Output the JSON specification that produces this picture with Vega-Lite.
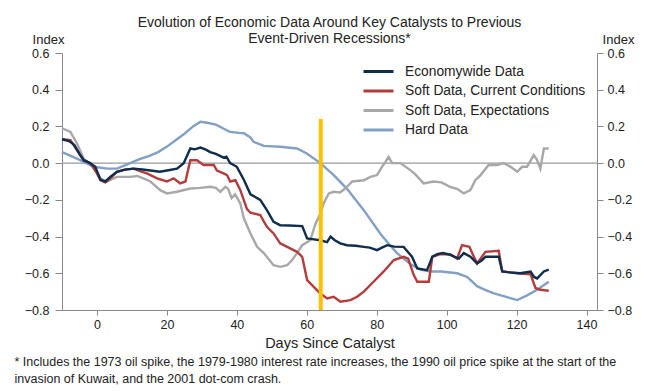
{
  "$schema": "https://vega.github.io/schema/vega-lite/v6.json",
  "width": 535,
  "height": 257,
  "autosize": "none",
  "padding": {"left": 62, "top": 53, "right": 65, "bottom": 81},
  "background": "white",
  "config": {
    "view": {"stroke": null},
    "font": "Liberation Sans",
    "axis": {"grid": false, "domainColor": "#8a8a8a", "tickColor": "#8a8a8a", "labelColor": "#222", "titleColor": "#222", "labelFont": "Liberation Sans", "titleFont": "Liberation Sans", "titleFontWeight": "normal"}
  },
  "title": {
    "text": ["Evolution of Economic Data Around Key Catalysts to Previous", "Event-Driven Recessions*"],
    "fontSize": 14,
    "fontWeight": "normal",
    "color": "#222",
    "anchor": "middle",
    "offset": -13,
    "lineHeight": 16
  },
  "layer": [
    {
      "data": {"values": [{"v": 0}]},
      "mark": {"type": "rule", "color": "#9a9a9a", "strokeWidth": 1.2},
      "encoding": {
        "y": {
          "field": "v", "type": "quantitative",
          "scale": {"domain": [-0.8, 0.6], "nice": false},
          "axis": {"orient": "left", "values": [-0.8, -0.6, -0.4, -0.2, 0, 0.2, 0.4, 0.6], "format": ".1f", "tickSize": 7, "labelPadding": 6, "labelFontSize": 12.5, "title": "Index", "titleAngle": 0, "titleAlign": "center", "titleBaseline": "alphabetic", "titleX": -14, "titleY": -10, "titleFontSize": 13}
        }
      }
    },
    {
      "data": {"values": [
        {"day": -10, "series": "Hard Data", "value": 0.06},
        {"day": -7, "series": "Hard Data", "value": 0.035},
        {"day": -4.8, "series": "Hard Data", "value": 0.016},
        {"day": -1, "series": "Hard Data", "value": -0.02},
        {"day": 3, "series": "Hard Data", "value": -0.03},
        {"day": 5.7, "series": "Hard Data", "value": -0.03},
        {"day": 9.5, "series": "Hard Data", "value": 0.0},
        {"day": 12, "series": "Hard Data", "value": 0.02},
        {"day": 15, "series": "Hard Data", "value": 0.04},
        {"day": 17.5, "series": "Hard Data", "value": 0.06},
        {"day": 20, "series": "Hard Data", "value": 0.09},
        {"day": 22.5, "series": "Hard Data", "value": 0.125},
        {"day": 25, "series": "Hard Data", "value": 0.16},
        {"day": 27.5, "series": "Hard Data", "value": 0.2},
        {"day": 29.6, "series": "Hard Data", "value": 0.225},
        {"day": 31.5, "series": "Hard Data", "value": 0.22},
        {"day": 34, "series": "Hard Data", "value": 0.21},
        {"day": 36, "series": "Hard Data", "value": 0.19},
        {"day": 38, "series": "Hard Data", "value": 0.17},
        {"day": 40.6, "series": "Hard Data", "value": 0.165},
        {"day": 42, "series": "Hard Data", "value": 0.163},
        {"day": 43.9, "series": "Hard Data", "value": 0.14},
        {"day": 44.8, "series": "Hard Data", "value": 0.116},
        {"day": 47.7, "series": "Hard Data", "value": 0.094},
        {"day": 52.4, "series": "Hard Data", "value": 0.089},
        {"day": 57.2, "series": "Hard Data", "value": 0.08},
        {"day": 60, "series": "Hard Data", "value": 0.053},
        {"day": 63.9, "series": "Hard Data", "value": 0.0},
        {"day": 67.7, "series": "Hard Data", "value": -0.065},
        {"day": 71.5, "series": "Hard Data", "value": -0.14},
        {"day": 76.3, "series": "Hard Data", "value": -0.256},
        {"day": 81, "series": "Hard Data", "value": -0.383},
        {"day": 83, "series": "Hard Data", "value": -0.43},
        {"day": 85.8, "series": "Hard Data", "value": -0.49},
        {"day": 89.6, "series": "Hard Data", "value": -0.55},
        {"day": 92.5, "series": "Hard Data", "value": -0.58},
        {"day": 95.4, "series": "Hard Data", "value": -0.59},
        {"day": 98.5, "series": "Hard Data", "value": -0.59},
        {"day": 103, "series": "Hard Data", "value": -0.6},
        {"day": 105.9, "series": "Hard Data", "value": -0.62},
        {"day": 108.7, "series": "Hard Data", "value": -0.67},
        {"day": 111, "series": "Hard Data", "value": -0.69},
        {"day": 113.5, "series": "Hard Data", "value": -0.71},
        {"day": 117.3, "series": "Hard Data", "value": -0.73},
        {"day": 120.2, "series": "Hard Data", "value": -0.746},
        {"day": 123, "series": "Hard Data", "value": -0.72},
        {"day": 125.9, "series": "Hard Data", "value": -0.69},
        {"day": 129.2, "series": "Hard Data", "value": -0.646},

        {"day": -10, "series": "Soft Data, Expectations", "value": 0.19},
        {"day": -7.6, "series": "Soft Data, Expectations", "value": 0.17},
        {"day": -5.7, "series": "Soft Data, Expectations", "value": 0.107},
        {"day": -3.8, "series": "Soft Data, Expectations", "value": 0.025},
        {"day": -1, "series": "Soft Data, Expectations", "value": -0.02},
        {"day": 1, "series": "Soft Data, Expectations", "value": -0.084},
        {"day": 2.9, "series": "Soft Data, Expectations", "value": -0.1},
        {"day": 5.7, "series": "Soft Data, Expectations", "value": -0.075},
        {"day": 9.5, "series": "Soft Data, Expectations", "value": -0.075},
        {"day": 11.5, "series": "Soft Data, Expectations", "value": -0.07},
        {"day": 13.3, "series": "Soft Data, Expectations", "value": -0.083},
        {"day": 15.3, "series": "Soft Data, Expectations", "value": -0.1},
        {"day": 18.1, "series": "Soft Data, Expectations", "value": -0.147},
        {"day": 20, "series": "Soft Data, Expectations", "value": -0.165},
        {"day": 22.9, "series": "Soft Data, Expectations", "value": -0.156},
        {"day": 26.7, "series": "Soft Data, Expectations", "value": -0.138},
        {"day": 29.5, "series": "Soft Data, Expectations", "value": -0.135},
        {"day": 32.4, "series": "Soft Data, Expectations", "value": -0.129},
        {"day": 34, "series": "Soft Data, Expectations", "value": -0.135},
        {"day": 35.3, "series": "Soft Data, Expectations", "value": -0.156},
        {"day": 36.7, "series": "Soft Data, Expectations", "value": -0.129},
        {"day": 37.5, "series": "Soft Data, Expectations", "value": -0.14},
        {"day": 38.5, "series": "Soft Data, Expectations", "value": -0.19},
        {"day": 39.5, "series": "Soft Data, Expectations", "value": -0.17},
        {"day": 41, "series": "Soft Data, Expectations", "value": -0.22},
        {"day": 42, "series": "Soft Data, Expectations", "value": -0.3},
        {"day": 43.9, "series": "Soft Data, Expectations", "value": -0.383},
        {"day": 45.8, "series": "Soft Data, Expectations", "value": -0.456},
        {"day": 47.7, "series": "Soft Data, Expectations", "value": -0.49},
        {"day": 50.5, "series": "Soft Data, Expectations", "value": -0.556},
        {"day": 52.4, "series": "Soft Data, Expectations", "value": -0.565},
        {"day": 54.4, "series": "Soft Data, Expectations", "value": -0.556},
        {"day": 55.8, "series": "Soft Data, Expectations", "value": -0.528},
        {"day": 57.2, "series": "Soft Data, Expectations", "value": -0.49},
        {"day": 58.7, "series": "Soft Data, Expectations", "value": -0.447},
        {"day": 61, "series": "Soft Data, Expectations", "value": -0.42},
        {"day": 62.5, "series": "Soft Data, Expectations", "value": -0.33},
        {"day": 63.9, "series": "Soft Data, Expectations", "value": -0.274},
        {"day": 64.8, "series": "Soft Data, Expectations", "value": -0.22},
        {"day": 66.3, "series": "Soft Data, Expectations", "value": -0.165},
        {"day": 67.7, "series": "Soft Data, Expectations", "value": -0.156},
        {"day": 69.5, "series": "Soft Data, Expectations", "value": -0.16},
        {"day": 71, "series": "Soft Data, Expectations", "value": -0.138},
        {"day": 73, "series": "Soft Data, Expectations", "value": -0.1},
        {"day": 76.3, "series": "Soft Data, Expectations", "value": -0.093},
        {"day": 78.2, "series": "Soft Data, Expectations", "value": -0.075},
        {"day": 80.1, "series": "Soft Data, Expectations", "value": -0.065},
        {"day": 81.5, "series": "Soft Data, Expectations", "value": -0.02},
        {"day": 82.5, "series": "Soft Data, Expectations", "value": 0.007},
        {"day": 83.4, "series": "Soft Data, Expectations", "value": 0.034},
        {"day": 84.4, "series": "Soft Data, Expectations", "value": 0.0},
        {"day": 86.8, "series": "Soft Data, Expectations", "value": 0.0},
        {"day": 89.6, "series": "Soft Data, Expectations", "value": -0.038},
        {"day": 91, "series": "Soft Data, Expectations", "value": -0.06},
        {"day": 93.4, "series": "Soft Data, Expectations", "value": -0.11},
        {"day": 96.3, "series": "Soft Data, Expectations", "value": -0.1},
        {"day": 98.5, "series": "Soft Data, Expectations", "value": -0.105},
        {"day": 101, "series": "Soft Data, Expectations", "value": -0.129},
        {"day": 103, "series": "Soft Data, Expectations", "value": -0.14},
        {"day": 104.9, "series": "Soft Data, Expectations", "value": -0.165},
        {"day": 106.8, "series": "Soft Data, Expectations", "value": -0.147},
        {"day": 108.2, "series": "Soft Data, Expectations", "value": -0.093},
        {"day": 109.7, "series": "Soft Data, Expectations", "value": -0.065},
        {"day": 112, "series": "Soft Data, Expectations", "value": -0.01},
        {"day": 114.4, "series": "Soft Data, Expectations", "value": -0.01},
        {"day": 116.3, "series": "Soft Data, Expectations", "value": 0.0},
        {"day": 118.3, "series": "Soft Data, Expectations", "value": -0.02},
        {"day": 120.2, "series": "Soft Data, Expectations", "value": -0.047},
        {"day": 121.6, "series": "Soft Data, Expectations", "value": -0.02},
        {"day": 123, "series": "Soft Data, Expectations", "value": -0.02},
        {"day": 124.9, "series": "Soft Data, Expectations", "value": 0.044},
        {"day": 125.8, "series": "Soft Data, Expectations", "value": 0.02},
        {"day": 126.8, "series": "Soft Data, Expectations", "value": -0.03},
        {"day": 127.8, "series": "Soft Data, Expectations", "value": 0.08},
        {"day": 129.2, "series": "Soft Data, Expectations", "value": 0.08},

        {"day": -10, "series": "Soft Data, Current Conditions", "value": 0.13},
        {"day": -7.6, "series": "Soft Data, Current Conditions", "value": 0.125},
        {"day": -5.7, "series": "Soft Data, Current Conditions", "value": 0.07},
        {"day": -3.8, "series": "Soft Data, Current Conditions", "value": 0.016},
        {"day": -1.9, "series": "Soft Data, Current Conditions", "value": 0.0},
        {"day": 0, "series": "Soft Data, Current Conditions", "value": -0.056},
        {"day": 1, "series": "Soft Data, Current Conditions", "value": -0.093},
        {"day": 2.4, "series": "Soft Data, Current Conditions", "value": -0.105},
        {"day": 4.3, "series": "Soft Data, Current Conditions", "value": -0.075},
        {"day": 5.7, "series": "Soft Data, Current Conditions", "value": -0.047},
        {"day": 8, "series": "Soft Data, Current Conditions", "value": -0.035},
        {"day": 10.5, "series": "Soft Data, Current Conditions", "value": -0.03},
        {"day": 12.5, "series": "Soft Data, Current Conditions", "value": -0.045},
        {"day": 14.3, "series": "Soft Data, Current Conditions", "value": -0.056},
        {"day": 17.2, "series": "Soft Data, Current Conditions", "value": -0.083},
        {"day": 20, "series": "Soft Data, Current Conditions", "value": -0.1},
        {"day": 21.9, "series": "Soft Data, Current Conditions", "value": -0.083},
        {"day": 23.8, "series": "Soft Data, Current Conditions", "value": -0.11},
        {"day": 25.3, "series": "Soft Data, Current Conditions", "value": -0.1},
        {"day": 26.7, "series": "Soft Data, Current Conditions", "value": 0.016},
        {"day": 28.6, "series": "Soft Data, Current Conditions", "value": 0.016},
        {"day": 30.5, "series": "Soft Data, Current Conditions", "value": -0.01},
        {"day": 33.4, "series": "Soft Data, Current Conditions", "value": -0.01},
        {"day": 34.3, "series": "Soft Data, Current Conditions", "value": -0.04},
        {"day": 36.2, "series": "Soft Data, Current Conditions", "value": -0.056},
        {"day": 37.2, "series": "Soft Data, Current Conditions", "value": -0.065},
        {"day": 38.1, "series": "Soft Data, Current Conditions", "value": -0.1},
        {"day": 39.6, "series": "Soft Data, Current Conditions", "value": -0.093},
        {"day": 41, "series": "Soft Data, Current Conditions", "value": -0.147},
        {"day": 42.9, "series": "Soft Data, Current Conditions", "value": -0.25},
        {"day": 43.9, "series": "Soft Data, Current Conditions", "value": -0.27},
        {"day": 46.7, "series": "Soft Data, Current Conditions", "value": -0.283},
        {"day": 48.6, "series": "Soft Data, Current Conditions", "value": -0.347},
        {"day": 50.5, "series": "Soft Data, Current Conditions", "value": -0.383},
        {"day": 52.4, "series": "Soft Data, Current Conditions", "value": -0.437},
        {"day": 54.4, "series": "Soft Data, Current Conditions", "value": -0.456},
        {"day": 57.2, "series": "Soft Data, Current Conditions", "value": -0.483},
        {"day": 58.7, "series": "Soft Data, Current Conditions", "value": -0.51},
        {"day": 60.1, "series": "Soft Data, Current Conditions", "value": -0.637},
        {"day": 62, "series": "Soft Data, Current Conditions", "value": -0.674},
        {"day": 63.9, "series": "Soft Data, Current Conditions", "value": -0.71},
        {"day": 65.8, "series": "Soft Data, Current Conditions", "value": -0.737},
        {"day": 67.7, "series": "Soft Data, Current Conditions", "value": -0.728},
        {"day": 69.6, "series": "Soft Data, Current Conditions", "value": -0.755},
        {"day": 72.5, "series": "Soft Data, Current Conditions", "value": -0.746},
        {"day": 74.4, "series": "Soft Data, Current Conditions", "value": -0.728},
        {"day": 76.3, "series": "Soft Data, Current Conditions", "value": -0.7},
        {"day": 79.1, "series": "Soft Data, Current Conditions", "value": -0.646},
        {"day": 82, "series": "Soft Data, Current Conditions", "value": -0.59},
        {"day": 84.9, "series": "Soft Data, Current Conditions", "value": -0.528},
        {"day": 87.7, "series": "Soft Data, Current Conditions", "value": -0.51},
        {"day": 89, "series": "Soft Data, Current Conditions", "value": -0.52},
        {"day": 90.6, "series": "Soft Data, Current Conditions", "value": -0.61},
        {"day": 91.6, "series": "Soft Data, Current Conditions", "value": -0.646},
        {"day": 94.9, "series": "Soft Data, Current Conditions", "value": -0.646},
        {"day": 95.9, "series": "Soft Data, Current Conditions", "value": -0.51},
        {"day": 98.2, "series": "Soft Data, Current Conditions", "value": -0.495},
        {"day": 101, "series": "Soft Data, Current Conditions", "value": -0.496},
        {"day": 103, "series": "Soft Data, Current Conditions", "value": -0.52},
        {"day": 104.4, "series": "Soft Data, Current Conditions", "value": -0.447},
        {"day": 106.5, "series": "Soft Data, Current Conditions", "value": -0.456},
        {"day": 107.3, "series": "Soft Data, Current Conditions", "value": -0.49},
        {"day": 108.7, "series": "Soft Data, Current Conditions", "value": -0.546},
        {"day": 111.1, "series": "Soft Data, Current Conditions", "value": -0.483},
        {"day": 114.9, "series": "Soft Data, Current Conditions", "value": -0.478},
        {"day": 115.9, "series": "Soft Data, Current Conditions", "value": -0.59},
        {"day": 120.2, "series": "Soft Data, Current Conditions", "value": -0.6},
        {"day": 124, "series": "Soft Data, Current Conditions", "value": -0.605},
        {"day": 125.4, "series": "Soft Data, Current Conditions", "value": -0.68},
        {"day": 126.8, "series": "Soft Data, Current Conditions", "value": -0.69},
        {"day": 129.2, "series": "Soft Data, Current Conditions", "value": -0.695},

        {"day": -10, "series": "Economywide Data", "value": 0.13},
        {"day": -8, "series": "Economywide Data", "value": 0.12},
        {"day": -6.5, "series": "Economywide Data", "value": 0.1},
        {"day": -5, "series": "Economywide Data", "value": 0.05},
        {"day": -3.8, "series": "Economywide Data", "value": 0.016},
        {"day": -2, "series": "Economywide Data", "value": 0.0},
        {"day": -0.5, "series": "Economywide Data", "value": -0.02},
        {"day": 1, "series": "Economywide Data", "value": -0.09},
        {"day": 2.4, "series": "Economywide Data", "value": -0.1},
        {"day": 3.8, "series": "Economywide Data", "value": -0.075},
        {"day": 5.7, "series": "Economywide Data", "value": -0.047},
        {"day": 8, "series": "Economywide Data", "value": -0.035},
        {"day": 10.5, "series": "Economywide Data", "value": -0.03},
        {"day": 13, "series": "Economywide Data", "value": -0.035},
        {"day": 15.3, "series": "Economywide Data", "value": -0.04},
        {"day": 18, "series": "Economywide Data", "value": -0.047},
        {"day": 20, "series": "Economywide Data", "value": -0.04},
        {"day": 22.9, "series": "Economywide Data", "value": -0.03},
        {"day": 24.8, "series": "Economywide Data", "value": 0.0},
        {"day": 26.7, "series": "Economywide Data", "value": 0.08},
        {"day": 28, "series": "Economywide Data", "value": 0.075},
        {"day": 29.6, "series": "Economywide Data", "value": 0.085},
        {"day": 31, "series": "Economywide Data", "value": 0.075},
        {"day": 32.4, "series": "Economywide Data", "value": 0.06},
        {"day": 34, "series": "Economywide Data", "value": 0.05},
        {"day": 36.2, "series": "Economywide Data", "value": 0.03},
        {"day": 37, "series": "Economywide Data", "value": 0.035},
        {"day": 38.1, "series": "Economywide Data", "value": 0.0},
        {"day": 40, "series": "Economywide Data", "value": -0.02},
        {"day": 42, "series": "Economywide Data", "value": -0.09},
        {"day": 43.9, "series": "Economywide Data", "value": -0.17},
        {"day": 46.7, "series": "Economywide Data", "value": -0.2},
        {"day": 48.6, "series": "Economywide Data", "value": -0.256},
        {"day": 50.5, "series": "Economywide Data", "value": -0.32},
        {"day": 52.4, "series": "Economywide Data", "value": -0.338},
        {"day": 55, "series": "Economywide Data", "value": -0.34},
        {"day": 58.7, "series": "Economywide Data", "value": -0.343},
        {"day": 60.1, "series": "Economywide Data", "value": -0.41},
        {"day": 62, "series": "Economywide Data", "value": -0.415},
        {"day": 63.9, "series": "Economywide Data", "value": -0.42},
        {"day": 65.8, "series": "Economywide Data", "value": -0.43},
        {"day": 66.8, "series": "Economywide Data", "value": -0.4},
        {"day": 68, "series": "Economywide Data", "value": -0.42},
        {"day": 69.6, "series": "Economywide Data", "value": -0.437},
        {"day": 71.5, "series": "Economywide Data", "value": -0.447},
        {"day": 74, "series": "Economywide Data", "value": -0.45},
        {"day": 76.3, "series": "Economywide Data", "value": -0.456},
        {"day": 78, "series": "Economywide Data", "value": -0.46},
        {"day": 80.1, "series": "Economywide Data", "value": -0.474},
        {"day": 81.5, "series": "Economywide Data", "value": -0.46},
        {"day": 83, "series": "Economywide Data", "value": -0.447},
        {"day": 85, "series": "Economywide Data", "value": -0.455},
        {"day": 87.7, "series": "Economywide Data", "value": -0.456},
        {"day": 90.1, "series": "Economywide Data", "value": -0.51},
        {"day": 91.6, "series": "Economywide Data", "value": -0.574},
        {"day": 94.4, "series": "Economywide Data", "value": -0.583},
        {"day": 95.9, "series": "Economywide Data", "value": -0.51},
        {"day": 97.3, "series": "Economywide Data", "value": -0.496},
        {"day": 99, "series": "Economywide Data", "value": -0.49},
        {"day": 101, "series": "Economywide Data", "value": -0.5},
        {"day": 103.5, "series": "Economywide Data", "value": -0.52},
        {"day": 104.9, "series": "Economywide Data", "value": -0.49},
        {"day": 106.8, "series": "Economywide Data", "value": -0.51},
        {"day": 108.7, "series": "Economywide Data", "value": -0.546},
        {"day": 110, "series": "Economywide Data", "value": -0.53},
        {"day": 111.1, "series": "Economywide Data", "value": -0.51},
        {"day": 114.9, "series": "Economywide Data", "value": -0.51},
        {"day": 115.9, "series": "Economywide Data", "value": -0.59},
        {"day": 118, "series": "Economywide Data", "value": -0.595},
        {"day": 121, "series": "Economywide Data", "value": -0.6},
        {"day": 124, "series": "Economywide Data", "value": -0.59},
        {"day": 125, "series": "Economywide Data", "value": -0.62},
        {"day": 125.9, "series": "Economywide Data", "value": -0.628},
        {"day": 127.8, "series": "Economywide Data", "value": -0.59},
        {"day": 129.2, "series": "Economywide Data", "value": -0.58}
      ]},
      "mark": {"type": "line", "strokeWidth": 2.4, "interpolate": "linear"},
      "encoding": {
        "x": {
          "field": "day", "type": "quantitative",
          "scale": {"domain": [-10, 143], "nice": false, "zero": false},
          "axis": {"orient": "bottom", "values": [0, 20, 40, 60, 80, 100, 120, 140], "tickSize": 5, "labelPadding": 3, "labelFontSize": 12.5, "title": "Days Since Catalyst", "titleFontSize": 14.5, "titlePadding": 6}
        },
        "y": {"field": "value", "type": "quantitative", "scale": {"domain": [-0.8, 0.6], "nice": false}, "axis": null},
        "color": {
          "field": "series", "type": "nominal",
          "scale": {
            "domain": ["Economywide Data", "Soft Data, Current Conditions", "Soft Data, Expectations", "Hard Data"],
            "range": ["#0f2d4d", "#b43c3c", "#a8a8a8", "#82a0c5"]
          },
          "legend": {
            "orient": "none", "legendX": 300, "legendY": 11, "direction": "vertical",
            "title": null, "symbolType": "stroke", "symbolSize": 900, "symbolStrokeWidth": 3,
            "labelFontSize": 13.8, "labelColor": "#222", "labelOffset": 10, "labelLimit": 400, "clipHeight": 15, "rowPadding": 4.5, "padding": 0
          }
        },
        "order": {"field": "none"}
      }
    },
    {
      "data": {"values": [{"day": 64, "top": 0.24, "bottom": -0.8}]},
      "mark": {"type": "rule", "color": "#ffc000", "strokeWidth": 4},
      "encoding": {
        "x": {
          "field": "day", "type": "quantitative",
          "scale": {"domain": [-10, 143], "nice": false, "zero": false},
          "axis": {"orient": "bottom", "domain": false, "ticks": false, "labels": false, "title": ["* Includes the 1973 oil spike, the 1979-1980 interest rate increases, the 1990 oil price spike at the start of the", "invasion of Kuwait, and the 2001 dot-com crash."], "titleAnchor": "start", "titleAlign": "left", "titleBaseline": "top", "titleX": -48, "titleY": 45, "titleFontSize": 12.5, "titleLineHeight": 17}
        },
        "y": {
          "field": "top", "type": "quantitative",
          "scale": {"domain": [-0.8, 0.6], "nice": false},
          "axis": {"orient": "right", "values": [-0.8, -0.6, -0.4, -0.2, 0, 0.2, 0.4, 0.6], "format": ".1f", "tickSize": 6, "labelPadding": 4, "labelFontSize": 12.5, "title": "Index", "titleAngle": 0, "titleAlign": "center", "titleBaseline": "alphabetic", "titleX": 21, "titleY": -10, "titleFontSize": 13}
        },
        "y2": {"field": "bottom"}
      }
    }
  ],
  "resolve": {"axis": {"x": "independent", "y": "independent"}}
}
